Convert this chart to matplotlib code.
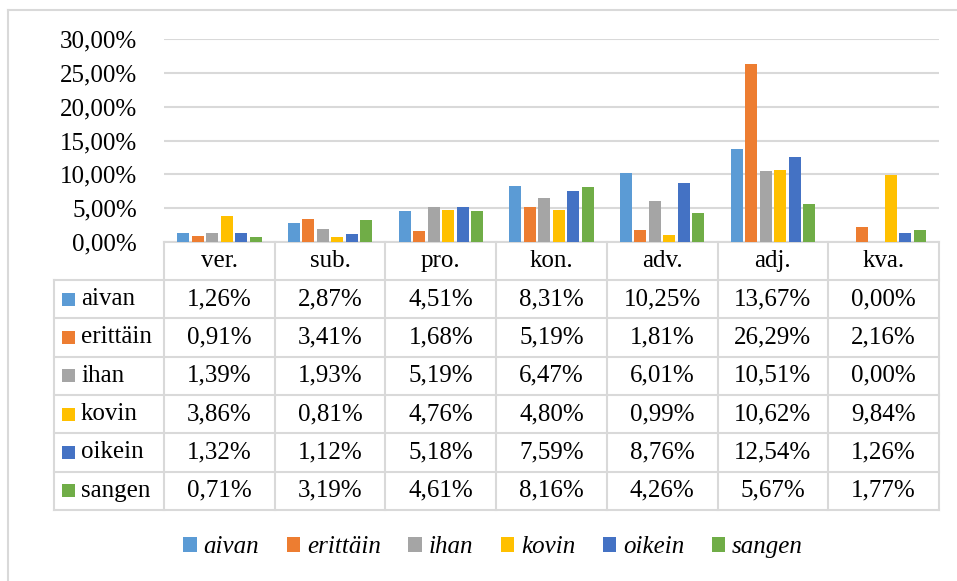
import matplotlib
matplotlib.use("Agg")
import matplotlib.pyplot as plt
from matplotlib.patches import Patch, Rectangle
from matplotlib.ticker import FuncFormatter

FONT = "Liberation Serif"
plt.rcParams['font.family'] = 'serif'
plt.rcParams['font.serif'] = [FONT, 'DejaVu Serif']

categories = ["ver.", "sub.", "pro.", "kon.", "adv.", "adj.", "kva."]
series = ["aivan", "erittäin", "ihan", "kovin", "oikein", "sangen"]
colors = ["#5B9BD5", "#ED7D31", "#A5A5A5", "#FFC000", "#4472C4", "#70AD47"]

aivan = [1.26, 2.87, 4.51, 8.31, 10.25, 13.67, 0.00]
erittain = [0.91, 3.41, 1.68, 5.19, 1.81, 26.29, 2.16]
ihan = [1.39, 1.93, 5.19, 6.47, 6.01, 10.51, 0.00]
kovin = [3.86, 0.81, 4.76, 4.80, 0.99, 10.62, 9.84]
oikein = [1.32, 1.12, 5.18, 7.59, 8.76, 12.54, 1.26]
sangen = [0.71, 3.19, 4.61, 8.16, 4.26, 5.67, 1.77]
values = [aivan, erittain, ihan, kovin, oikein, sangen]

W, H = 957, 581
fig = plt.figure(figsize=(W / 100, H / 100), dpi=100)

def pct(v):
    return ("%.2f%%" % v).replace(".", ",")

# bar area (pixel positions from the reference)
left, right, top, bottom = 164, 939, 39, 242
ax = fig.add_axes([left / W, 1 - bottom / H, (right - left) / W, (bottom - top) / H])
pitch = 0.131
bw = 0.108
for i, (name, vals, c) in enumerate(zip(series, values, colors)):
    xs = [k + (i - 2.5) * pitch for k in range(len(categories))]
    ax.bar(xs, vals, width=bw, color=c, zorder=3)
ax.set_xlim(-0.5, len(categories) - 0.5)
ax.set_ylim(0, 30)
ax.set_yticks([0, 5, 10, 15, 20, 25, 30])
ax.yaxis.set_major_formatter(FuncFormatter(lambda v, p: pct(v)))
ax.tick_params(axis='y', length=0, pad=19.5, labelsize=18)
for t in ax.get_yticklabels():
    t.set_fontfamily(FONT)
ax.set_xticks([])
ax.yaxis.grid(True, color="#D9D9D9", linewidth=1.5, zorder=0)
for s in ax.spines.values():
    s.set_visible(False)
ax.patch.set_alpha(0)

# overlay in pixel coordinates for the data table and frame
ov = fig.add_axes([0, 0, 1, 1], zorder=-1)
ov.set_xlim(0, W)
ov.set_ylim(H, 0)
ov.axis("off")

lc = "#D9D9D9"
lw = 1.5
# outer frame
ov.plot([8, 8], [10, H], color=lc, lw=lw)
ov.plot([8, W], [10, 10], color=lc, lw=lw)

tab_left = 54
row_top = 280
row_h = 38.3
n = len(series)
col_w = (right - left) / len(categories)
tab_bottom = row_top + n * row_h

# horizontal lines
ov.plot([left, right], [bottom, bottom], color=lc, lw=lw)
for r in range(n + 1):
    y = row_top + r * row_h
    ov.plot([tab_left, right], [y, y], color=lc, lw=lw)
# vertical lines
ov.plot([tab_left, tab_left], [row_top, tab_bottom], color=lc, lw=lw)
for c in range(len(categories) + 1):
    x = left + c * col_w
    ov.plot([x, x], [bottom, tab_bottom], color=lc, lw=lw)

fs = 18
for c, cat in enumerate(categories):
    ov.text(left + (c + 0.5) * col_w, (bottom + row_top) / 2, cat,
            ha="center", va="center", fontsize=fs, family=FONT)
for r, (name, vals, col) in enumerate(zip(series, values, colors)):
    yc = row_top + (r + 0.5) * row_h
    ov.add_patch(Rectangle((62, yc - 6.5), 13, 13, color=col, lw=0))
    ov.text(81, yc, name, ha="left", va="center", fontsize=fs, family=FONT)
    for c, v in enumerate(vals):
        ov.text(left + (c + 0.5) * col_w, yc, pct(v), ha="center", va="center",
                fontsize=fs, family=FONT)

handles = [Patch(facecolor=c, label=s) for s, c in zip(series, colors)]
fig.legend(handles=handles, loc="center", bbox_to_anchor=(493 / W, 1 - 547 / H),
           ncol=6, frameon=False, prop={"size": fs, "style": "italic", "family": FONT},
           handlelength=0.55, handleheight=0.55, handletextpad=0.26, columnspacing=1.1)

fig.savefig("out.png", dpi=100)
